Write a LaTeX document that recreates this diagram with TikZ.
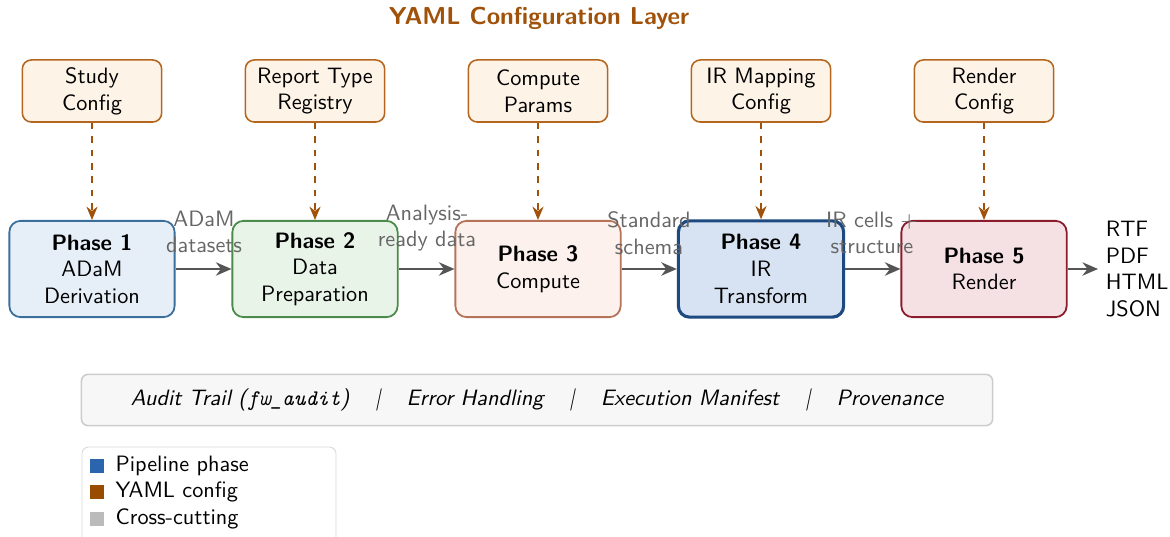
\documentclass[tikz,border=0pt]{standalone}
\usetikzlibrary{arrows.meta}
\renewcommand{\familydefault}{\sfdefault}

\definecolor{cfgdraw}{HTML}{B5661E}
\definecolor{cfgfill}{HTML}{FEF3E7}
\definecolor{cfgline}{HTML}{A0520A}
\definecolor{ponefill}{HTML}{E6EFF8}
\definecolor{ponedraw}{HTML}{3A6F9C}
\definecolor{ptwofill}{HTML}{E9F4E9}
\definecolor{ptwodraw}{HTML}{4B8B4B}
\definecolor{pthreefill}{HTML}{FCF1EC}
\definecolor{pthreedraw}{HTML}{B5735A}
\definecolor{pfourfill}{HTML}{D7E3F2}
\definecolor{pfourdraw}{HTML}{1C4A80}
\definecolor{pfivefill}{HTML}{F5E1E4}
\definecolor{pfivedraw}{HTML}{8A1C2C}
\definecolor{flowgray}{HTML}{555555}
\definecolor{labelgray}{HTML}{666666}
\definecolor{legblue}{HTML}{2B65AE}
\definecolor{legbrown}{HTML}{994C00}
\definecolor{leggray}{HTML}{BBBBBB}

\tikzset{
  phase/.style={draw, rounded corners=5pt, line width=0.8pt, align=center,
    minimum width=2.61cm, minimum height=1.52cm},
  cfg/.style={draw=cfgdraw, fill=cfgfill, rounded corners=4pt, line width=0.7pt,
    align=center, minimum width=2.2cm, minimum height=0.98cm},
  cfgarrow/.style={-{Stealth[length=6pt,width=5pt]}, dashed, cfgline, line width=0.7pt},
  flow/.style={-{Stealth[length=7pt,width=6pt]}, flowgray, line width=1pt},
  flowlabel/.style={text=labelgray, align=center, inner sep=1pt},
  legsq/.style={minimum size=0.21cm, inner sep=0pt}
}

\begin{document}
\begin{tikzpicture}[x=0.0158cm, y=-0.0158cm]
\useasboundingbox (0,0) rectangle (1170,537);
\clip (0,0) rectangle (1170,537);

% title
\node[text=cfgline, font=\fontsize{11}{13}\selectfont\bfseries] (title) at (539,18) {YAML Configuration Layer};

% yaml config boxes
\node[cfg] (c1) at (92,91) {Study\\Config};
\node[cfg] (c2) at (315,91) {Report Type\\Registry};
\node[cfg] (c3) at (538,91) {Compute\\Params};
\node[cfg] (c4) at (761,91) {IR Mapping\\Config};
\node[cfg] (c5) at (984,91) {Render\\Config};

% pipeline phases
\node[phase, fill=ponefill, draw=ponedraw] (p1) at (92,269) {\textbf{Phase 1}\\ADaM\\Derivation};
\node[phase, fill=ptwofill, draw=ptwodraw] (p2) at (315,269) {\textbf{Phase 2}\\Data\\Preparation};
\node[phase, fill=pthreefill, draw=pthreedraw] (p3) at (538,269) {\textbf{Phase 3}\\Compute};
\node[phase, fill=pfourfill, draw=pfourdraw, line width=1.4pt] (p4) at (761,269) {\textbf{Phase 4}\\IR\\Transform};
\node[phase, fill=pfivefill, draw=pfivedraw] (p5) at (984,269) {\textbf{Phase 5}\\Render};

% config into phases
\foreach \i in {1,...,5}
  \draw[cfgarrow] (c\i) -- (p\i);

% data flow
\draw[flow] (p1) -- (p2);
\draw[flow] (p2) -- (p3);
\draw[flow] (p3) -- (p4);
\draw[flow] (p4) -- (p5);
\node[flowlabel] (f12) at (204,232) {ADaM\\datasets};
\node[flowlabel] (f23) at (427,228) {Analysis-\\ready data};
\node[flowlabel] (f34) at (649,233) {Standard\\schema};
\node[flowlabel] (f45) at (872,233) {IR cells +\\structure};

% outputs
\node[align=left, anchor=west] (fmt) at (1098,269) {RTF\\PDF\\HTML\\JSON};
\draw[flow] (p5) -- (fmt);

% cross-cutting
\node[draw=black!20, fill=black!3, rounded corners=3pt, line width=0.7pt,
  minimum width=14.39cm, minimum height=0.81cm, font=\itshape] (audit) at (537,400)
  {Audit Trail (\texttt{fw\_audit})\hspace{1.15em}|\hspace{1.15em}Error Handling\hspace{1.15em}|\hspace{1.15em}Execution Manifest\hspace{1.15em}|\hspace{1.15em}Provenance};

% legend
\draw[black!15, fill=white, rounded corners=3pt] (82,447) rectangle (336,570);
\node[legsq, fill=legblue] (l1) at (97,466) {};
\node[legsq, fill=legbrown] (l2) at (97,492) {};
\node[legsq, fill=leggray] (l3) at (97,519) {};
\node[anchor=west, inner sep=2pt] (t1) at ([xshift=3pt]l1.east) {Pipeline phase};
\node[anchor=west, inner sep=2pt] (t2) at ([xshift=3pt]l2.east) {YAML config};
\node[anchor=west, inner sep=2pt] (t3) at ([xshift=3pt]l3.east) {Cross-cutting};

\end{tikzpicture}
\end{document}
